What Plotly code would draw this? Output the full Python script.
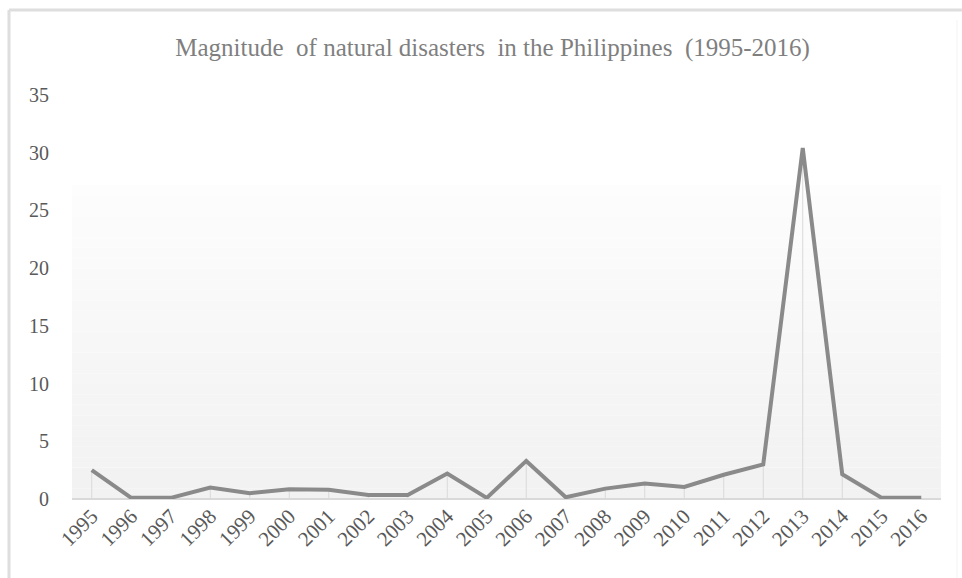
import plotly.graph_objects as go

years = [str(y) for y in range(1995, 2017)]
magnitude = [2.5, 0.1, 0.1, 1.0, 0.5, 0.85, 0.8, 0.35, 0.35, 2.2, 0.1,
             3.3, 0.15, 0.9, 1.35, 1.05, 2.1, 3.0, 30.4, 2.15, 0.1, 0.1]
y_ticks = [0, 5, 10, 15, 20, 25, 30, 35]

W, H = 962, 578
L, R, T, B = 72, 21, 95, 79
pw, ph = W - L - R, H - T - B
SERIF = "'Liberation Serif', 'Times New Roman', Times, serif"

def px_x(x):
    return (x - L) / pw

def px_y(y):
    return (H - B - y) / ph

fig = go.Figure()

# drop lines from each point to the axis
fig.add_trace(go.Scatter(
    x=years, y=magnitude, mode="markers",
    marker=dict(size=0.1, color="rgba(0,0,0,0)"),
    error_y=dict(type="data", symmetric=False, array=[0] * len(magnitude),
                 arrayminus=magnitude, width=0, thickness=1, color="#d9d9d9"),
    hoverinfo="skip", showlegend=False))

fig.add_trace(go.Scatter(
    x=years, y=magnitude, mode="lines",
    line=dict(color="#8a8a8a", width=4),
    showlegend=False))

shapes = []
# faint vertical gradient panel (white at top to light grey at bottom)
n = 30
top_val = 27.2
for i in range(n):
    y0 = top_val * i / n
    y1 = top_val * (i + 1) / n
    t = i / (n - 1)
    c = int(242 + (253 - 242) * t)
    shapes.append(dict(type="rect", xref="x domain", yref="y", x0=0, x1=1,
                       y0=y0, y1=y1, fillcolor=f"rgb({c},{c},{c})",
                       line=dict(width=0), layer="below"))
# outer frame
shapes.append(dict(type="line", xref="paper", yref="paper",
                   x0=px_x(9), x1=px_x(9), y0=px_y(10), y1=px_y(580),
                   line=dict(color="#dedede", width=3)))
shapes.append(dict(type="line", xref="paper", yref="paper",
                   x0=px_x(9), x1=px_x(962), y0=px_y(10), y1=px_y(10),
                   line=dict(color="#dedede", width=3)))
shapes.append(dict(type="line", xref="paper", yref="paper",
                   x0=px_x(957), x1=px_x(957), y0=px_y(20), y1=px_y(580),
                   line=dict(color="#f3f3f3", width=1)))

fig.update_layout(
    width=W, height=H,
    margin=dict(l=L, r=R, t=T, b=B, autoexpand=False),
    paper_bgcolor="white", plot_bgcolor="white",
    font=dict(family=SERIF, color="#595959"),
    title=dict(text="Magnitude  of natural disasters  in the Philippines  (1995-2016)",
               x=0.484, xanchor="center", xref="paper", y=1 - 47 / H, yanchor="middle",
               font=dict(size=25, color="#7f7f7f", family=SERIF)),
    shapes=shapes,
    xaxis=dict(type="category", categoryorder="array", categoryarray=years,
               range=[-0.5, len(years) - 0.5],
               tickangle=-45, showgrid=False, showline=False, zeroline=False,
               ticks="", tickfont=dict(size=21, color="#595959", family=SERIF)),
    yaxis=dict(range=[0, 35], tickvals=y_ticks, showgrid=False, zeroline=True,
               zerolinecolor="#d9d9d9", zerolinewidth=2, showline=False,
               ticks="", ticklabelstandoff=22,
               tickfont=dict(size=20, color="#595959", family=SERIF)),
)

fig.write_html("out.html")
